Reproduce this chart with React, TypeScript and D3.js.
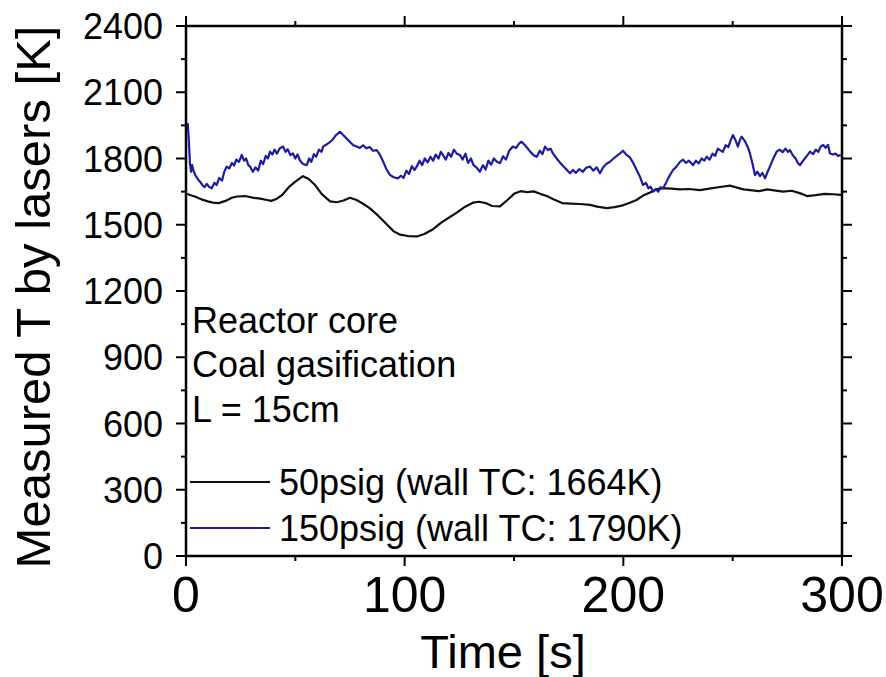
import React from "react";
import * as d3 from "d3";

const xTicks = [0, 100, 200, 300];
const xMinor = [50, 150, 250];
const yTicks = [0, 300, 600, 900, 1200, 1500, 1800, 2100, 2400];
const yMinor = [150, 450, 750, 1050, 1350, 1650, 1950, 2250];

const series50Label = "50psig (wall TC: 1664K)";
const series150Label = "150psig (wall TC: 1790K)";
const notes = ["Reactor core", "Coal gasification", "L = 15cm"];

// [time s, temperature K]
const black50: [number, number][] = [
  [0.5, 1640], [1.8, 1635], [4, 1628], [7, 1615], [10, 1606], [12.3, 1600], [15, 1598], [18, 1608],
  [21, 1622], [23.3, 1628], [27, 1630], [31, 1622], [34, 1618], [37, 1612], [39, 1608], [41.6, 1618],
  [44, 1635], [47, 1670], [50, 1695], [53.5, 1720], [56, 1708], [59, 1680], [62, 1640], [65.9, 1606],
  [69, 1602], [72, 1610], [75, 1622], [78, 1612], [81, 1595], [84, 1575], [88, 1540], [92, 1500],
  [95, 1470], [98, 1455], [102, 1448], [105.6, 1447], [109, 1458], [113, 1480], [117, 1512], [120.7, 1535],
  [124, 1556], [127, 1578], [131.2, 1600], [134, 1604], [137, 1598], [140, 1585], [143.6, 1583], [147, 1612],
  [150, 1640], [153, 1652], [156, 1648], [159, 1651], [162, 1640], [165, 1630], [168, 1615], [172, 1598],
  [176, 1596], [180, 1594], [184.8, 1590], [188, 1582], [192.5, 1575], [196, 1580], [199.8, 1588], [203, 1600],
  [206, 1612], [209, 1632], [212, 1645], [215, 1660], [218, 1666], [222, 1664], [226, 1660], [230, 1662],
  [235, 1657], [240, 1665], [245, 1672], [248.8, 1677], [252, 1668], [255, 1660], [258, 1657], [262, 1652],
  [265.7, 1660], [269, 1656], [273, 1650], [277, 1654], [281, 1642], [284, 1630], [288, 1634], [292, 1640],
  [296, 1638], [299.5, 1635],
];

const blue150: [number, number][] = [
  [0.8, 1960], [1.3, 1880], [1.8, 1780], [2.3, 1740], [2.8, 1770], [3.4, 1745], [4.5, 1720], [5.5, 1705],
  [6.4, 1695], [7.5, 1680], [8.5, 1670], [9.5, 1685], [10.5, 1672], [11.8, 1665], [13, 1690], [14, 1680],
  [15.2, 1712], [16.5, 1700], [17.5, 1740], [18.6, 1763], [19.8, 1755], [21, 1780], [22, 1768], [23, 1795],
  [24.2, 1785], [25.5, 1816], [26.5, 1790], [27.5, 1800], [28.5, 1770], [29.3, 1763], [30.6, 1740], [31.8, 1760],
  [33, 1745], [34.2, 1790], [35.3, 1775], [36.5, 1812], [37.5, 1800], [38.4, 1831], [39.5, 1818], [40.5, 1840],
  [41.6, 1822], [42.8, 1845], [44.4, 1854], [45.5, 1830], [46.5, 1842], [47.8, 1815], [48.9, 1823], [50, 1800],
  [51, 1818], [52.2, 1790], [53.5, 1775], [55.2, 1770], [56.3, 1800], [57.3, 1785], [58.5, 1820], [59.5, 1808],
  [60.8, 1840], [62, 1830], [62.7, 1854], [64, 1862], [65.5, 1872], [67, 1885], [68.5, 1905], [70.4, 1921],
  [72, 1905], [73.5, 1890], [75, 1875], [76.5, 1860], [78.1, 1854], [79.5, 1848], [81, 1860], [82.5, 1846],
  [84, 1852], [85.5, 1835], [87.2, 1838], [88.5, 1820], [90, 1790], [91.5, 1755], [93.3, 1725], [95, 1715],
  [96.9, 1710], [98.3, 1722], [99.5, 1712], [100.8, 1745], [102, 1730], [103.3, 1765], [104.5, 1748], [105.5, 1763],
  [106.8, 1790], [108, 1770], [109.2, 1800], [110.5, 1782], [111.8, 1808], [113, 1790], [114.2, 1818], [115.5, 1800],
  [116.5, 1830], [117.5, 1816], [118.8, 1795], [120, 1825], [121.3, 1808], [122.5, 1840], [123.8, 1822], [125.3, 1816],
  [126.5, 1795], [127.8, 1822], [129, 1780], [130.3, 1800], [131.5, 1770], [132.8, 1760], [134.4, 1740], [135.8, 1770],
  [137, 1750], [138.3, 1790], [139.5, 1772], [140.8, 1800], [142.2, 1785], [143.6, 1779], [145, 1810], [146.3, 1795],
  [147.8, 1835], [149.5, 1854], [151, 1848], [152.3, 1868], [153.5, 1876], [155, 1860], [156.3, 1845], [157.5, 1830],
  [159, 1815], [160.4, 1808], [161.8, 1835], [163, 1820], [164.2, 1854], [165.5, 1838], [166.7, 1845], [167.8, 1823],
  [169.5, 1800], [171.2, 1780], [173, 1760], [174.5, 1745], [175.6, 1733], [177, 1748], [178.3, 1735], [179.8, 1752],
  [181.5, 1740], [183, 1758], [184.8, 1763], [186.2, 1745], [187.8, 1760], [189.3, 1733], [190.8, 1760], [192.2, 1775],
  [193.9, 1785], [195.5, 1800], [197, 1812], [198.5, 1823], [199.8, 1835], [201.5, 1816], [203, 1805], [204.5, 1780],
  [206.1, 1748], [207.5, 1720], [209, 1680], [210.3, 1690], [211.5, 1665], [212.5, 1672], [213.6, 1650], [214.8, 1662],
  [216, 1650], [217, 1670], [218.1, 1665], [219.3, 1685], [220.5, 1710], [221.6, 1730], [222.7, 1748], [224, 1760],
  [225.9, 1785], [227.3, 1795], [228.6, 1780], [230, 1790], [231.9, 1770], [233.2, 1790], [234.5, 1778], [235.8, 1800],
  [237, 1790], [238.1, 1808], [239.5, 1795], [240.8, 1822], [242, 1812], [243.2, 1845], [244.2, 1838], [245.5, 1830],
  [246.8, 1860], [248, 1852], [249, 1880], [250.1, 1906], [251.2, 1885], [252.4, 1854], [253.2, 1880], [254.1, 1899],
  [255.5, 1880], [257, 1850], [257.9, 1823], [259, 1780], [260.2, 1725], [261.3, 1740], [262.5, 1720], [263.6, 1735],
  [264.8, 1710], [266, 1740], [267.3, 1770], [268.6, 1800], [270.1, 1831], [271.5, 1840], [272.8, 1828], [274.2, 1845],
  [275.3, 1830], [276.2, 1838], [277.5, 1815], [278.8, 1800], [279.8, 1780], [280.8, 1770], [281.8, 1785], [283, 1800],
  [284.2, 1815], [285.4, 1831], [286.8, 1820], [288, 1840], [289.2, 1830], [290.3, 1855], [291.4, 1861], [292.5, 1848],
  [293.6, 1862], [294.5, 1823], [295.8, 1818], [297, 1822], [298.2, 1812], [299.5, 1816],
];

const W = 886;
const H = 677;
const left = 186;
const right = 842;
const top = 26;
const bottom = 556;
const FONT = "Liberation Sans, Arial, sans-serif";
const BLUE = "#1c1ca6";

export default function App() {
  const x = d3.scaleLinear().domain([0, 300]).range([left, right]);
  const y = d3.scaleLinear().domain([0, 2400]).range([bottom, top]);
  const line = d3
    .line<[number, number]>()
    .x((d) => x(d[0]))
    .y((d) => y(d[1]));

  const major = 10;
  const minor = 5;
  const tickStroke = 2;

  return (
    <svg
      width={W}
      height={H}
      style={{ position: "absolute", left: 0, top: 0, background: "#fff" }}
      fontFamily={FONT}
    >
      <rect x={0} y={0} width={W} height={H} fill="#fff" />
      {/* data */}
      <path d={line(black50) || ""} fill="none" stroke="#111" strokeWidth={2.2} strokeLinejoin="round" />
      <path d={line(blue150) || ""} fill="none" stroke={BLUE} strokeWidth={2.2} strokeLinejoin="round" />

      {/* frame */}
      <rect x={left} y={top} width={right - left} height={bottom - top} fill="none" stroke="#000" strokeWidth={2.5} />

      {/* x ticks bottom & top */}
      {xTicks.map((t) => (
        <g key={"xt" + t}>
          <line x1={x(t)} x2={x(t)} y1={bottom} y2={bottom + major} stroke="#000" strokeWidth={tickStroke} />
          <line x1={x(t)} x2={x(t)} y1={top} y2={top - major} stroke="#000" strokeWidth={tickStroke} />
          <text x={x(t)} y={612} fontSize={50} textAnchor="middle" fill="#000">
            {t}
          </text>
        </g>
      ))}
      {xMinor.map((t) => (
        <g key={"xm" + t}>
          <line x1={x(t)} x2={x(t)} y1={bottom} y2={bottom + minor} stroke="#000" strokeWidth={tickStroke} />
          <line x1={x(t)} x2={x(t)} y1={top} y2={top - minor} stroke="#000" strokeWidth={tickStroke} />
        </g>
      ))}

      {/* y ticks left & right */}
      {yTicks.map((v) => (
        <g key={"yt" + v}>
          <line x1={left} x2={left - major} y1={y(v)} y2={y(v)} stroke="#000" strokeWidth={tickStroke} />
          <line x1={right} x2={right + major} y1={y(v)} y2={y(v)} stroke="#000" strokeWidth={tickStroke} />
          <text x={163} y={y(v) + 13} fontSize={36} textAnchor="end" fill="#000">
            {v}
          </text>
        </g>
      ))}
      {yMinor.map((v) => (
        <g key={"ym" + v}>
          <line x1={left} x2={left - minor} y1={y(v)} y2={y(v)} stroke="#000" strokeWidth={tickStroke} />
          <line x1={right} x2={right + minor} y1={y(v)} y2={y(v)} stroke="#000" strokeWidth={tickStroke} />
        </g>
      ))}

      {/* axis titles */}
      <text x={503} y={668} fontSize={47} textAnchor="middle" fill="#000">
        Time [s]
      </text>
      <text
        transform={`translate(50, ${(top + bottom) / 2 + 6}) rotate(-90)`}
        fontSize={49}
        textAnchor="middle"
        fill="#000"
      >
        Measured T by lasers [K]
      </text>

      {/* annotations */}
      {notes.map((n, i) => (
        <text key={n} x={192} y={333 + i * 44.3} fontSize={36} fill="#000">
          {n}
        </text>
      ))}

      {/* legend */}
      <line x1={190} x2={270} y1={482} y2={482} stroke="#111" strokeWidth={2} />
      <text x={279} y={495} fontSize={36} fill="#000">
        {series50Label}
      </text>
      <line x1={190} x2={270} y1={528} y2={528} stroke={BLUE} strokeWidth={2} />
      <text x={279} y={541} fontSize={36} fill="#000">
        {series150Label}
      </text>
    </svg>
  );
}
